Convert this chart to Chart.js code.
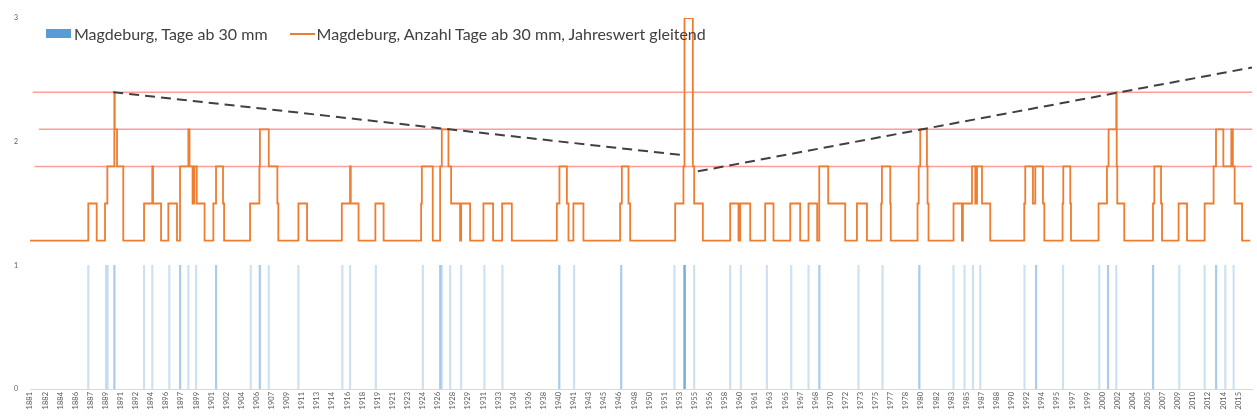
<!DOCTYPE html>
<html>
<head>
<meta charset="utf-8">
<script src="https://cdn.jsdelivr.net/npm/chart.js@4.4.1/dist/chart.umd.min.js"></script>
<style>
  html, body { margin: 0; padding: 0; background: #fff; }
  #wrap { position: relative; width: 1257px; height: 419px; }
  #legend {
    position: absolute; top: 24px; left: 46px;
    font-family: Lato, "Liberation Sans", sans-serif; font-size: 16px; color: #404040;
    display: flex; align-items: center; white-space: nowrap;
  }
  .box { display: inline-block; width: 25px; height: 9px; background: #5b9bd5; margin-right: 3px; }
  .line { display: inline-block; width: 25px; height: 2px; background: #ed7d31; margin: 0 2px 0 22px; }
</style>
</head>
<body>
<div id="wrap">
  <canvas id="chart" width="1257" height="419"></canvas>
  <div id="legend">
    <span class="box"></span><span>Magdeburg, Tage ab 30 mm</span>
    <span class="line"></span><span>Magdeburg, Anzahl Tage ab 30 mm, Jahreswert gleitend</span>
  </div>
</div>
<script>
// days with >= 30 mm (decimal year of each day, doubles where the bar is darker)
const eventYears = [
  1887.51, 1889.49, 1889.68, 1890.42, 1890.43, 1893.74, 1894.66, 1896.56, 1897.76, 1897.78,
  1898.69, 1899.55, 1901.78, 1901.79, 1905.66, 1906.66, 1906.68, 1907.67, 1910.98, 1915.89,
  1916.75, 1919.63, 1924.88, 1926.81, 1926.83, 1927.00, 1927.93, 1929.16, 1931.76, 1933.77,
  1940.11, 1940.13, 1941.78, 1947.03, 1947.05, 1952.99, 1954.10, 1954.11, 1954.12, 1954.13,
  1954.14, 1955.19, 1959.21, 1960.41, 1963.31, 1966.03, 1967.96, 1969.16, 1969.18, 1973.55,
  1976.23, 1980.33, 1980.35, 1984.16, 1985.39, 1986.33, 1987.15, 1992.09, 1993.37, 1993.39,
  1996.39, 2000.44, 2001.41, 2001.43, 2002.34, 2006.44, 2006.46, 2009.38, 2012.21, 2013.48,
  2013.50, 2014.52, 2015.45
];

// moving annual count, as plotted: change points (year) and new level
const stepYears = [
  1881.00, 1887.51, 1888.45, 1889.38, 1889.64, 1890.42, 1890.47, 1890.72, 1891.42, 1893.74,
  1894.66, 1894.74, 1895.64, 1896.45, 1897.42, 1897.76, 1898.69, 1898.82, 1899.16, 1899.36,
  1899.63, 1900.50, 1901.48, 1901.78, 1902.56, 1902.68, 1905.58, 1906.62, 1906.68, 1907.67,
  1908.63, 1908.74, 1910.98, 1911.95, 1915.83, 1916.75, 1916.83, 1917.70, 1919.58, 1920.50,
  1924.69, 1924.77, 1925.99, 1926.81, 1927.00, 1927.74, 1928.04, 1929.04, 1929.16, 1930.16,
  1931.65, 1932.73, 1933.74, 1934.82, 1939.85, 1940.14, 1940.97, 1941.15, 1941.70, 1942.82,
  1946.92, 1947.11, 1947.85, 1948.04, 1953.07, 1953.99, 1954.11, 1955.04, 1955.19, 1956.16,
  1959.21, 1960.14, 1960.33, 1961.45, 1963.12, 1964.05, 1965.92, 1967.03, 1967.96, 1968.93,
  1969.16, 1970.16, 1972.06, 1973.37, 1974.49, 1976.08, 1976.16, 1977.09, 1977.15, 1980.14,
  1980.27, 1980.44, 1981.19, 1981.26, 1981.37, 1984.16, 1985.10, 1985.21, 1986.22, 1986.59,
  1986.78, 1987.34, 1988.26, 1992.06, 1992.17, 1993.03, 1993.29, 1994.15, 1994.30, 1996.34,
  1996.42, 1997.20, 1997.28, 2000.36, 2001.30, 2001.48, 2002.34, 2002.39, 2002.45, 2003.23,
  2006.44, 2006.59, 2007.34, 2007.45, 2009.30, 2010.24, 2012.21, 2013.21, 2013.48, 2014.30,
  2015.19, 2015.36, 2015.56, 2016.39, 2017.31
];
const stepValues = [
  1.2, 1.5, 1.2, 1.5, 1.8, 2.4, 2.1, 1.8, 1.2, 1.5,
  1.8, 1.5, 1.2, 1.5, 1.2, 1.8, 2.1, 1.8, 1.5, 1.8,
  1.5, 1.2, 1.5, 1.8, 1.5, 1.2, 1.5, 1.8, 2.1, 1.8,
  1.5, 1.2, 1.5, 1.2, 1.5, 1.8, 1.5, 1.2, 1.5, 1.2,
  1.5, 1.8, 1.2, 1.8, 2.1, 1.8, 1.5, 1.2, 1.5, 1.2,
  1.5, 1.2, 1.5, 1.2, 1.5, 1.8, 1.5, 1.2, 1.5, 1.2,
  1.5, 1.8, 1.5, 1.2, 1.5, 1.8, 3.0, 1.8, 1.5, 1.2,
  1.5, 1.2, 1.5, 1.2, 1.5, 1.2, 1.5, 1.2, 1.5, 1.2,
  1.8, 1.5, 1.2, 1.5, 1.2, 1.5, 1.8, 1.5, 1.2, 1.5,
  1.8, 2.1, 1.8, 1.5, 1.2, 1.5, 1.2, 1.5, 1.8, 1.5,
  1.8, 1.5, 1.2, 1.5, 1.8, 1.5, 1.8, 1.5, 1.2, 1.5,
  1.8, 1.5, 1.2, 1.5, 1.8, 2.1, 2.4, 1.8, 1.5, 1.2,
  1.5, 1.8, 1.5, 1.2, 1.5, 1.2, 1.5, 1.8, 2.1, 1.8,
  2.1, 1.8, 1.5, 1.2, 1.2
];

// red reference levels and the two dashed trend lines
const refLevels = [1.8, 2.1, 2.4];
const refStarts = [1881.5, 1882.0, 1881.3];
const trendA = { years: [1890.3, 1954.1], values: [2.4, 1.89] };
const trendB = { years: [1955.6, 2017.5], values: [1.76, 2.6] };

// category labels Excel printed under the axis
const yearLabels = [
  "1881","1882","1884","1886","1887","1889","1891","1892","1894","1896",
  "1897","1899","1901","1902","1904","1906","1907","1909","1911","1913",
  "1914","1916","1918","1919","1921","1923","1924","1926","1928","1929",
  "1931","1933","1934","1936","1938","1940","1941","1943","1945","1946",
  "1948","1950","1951","1953","1955","1956","1958","1960","1961","1963",
  "1965","1967","1968","1970","1972","1973","1975","1977","1978","1980",
  "1982","1983","1985","1987","1988","1990","1992","1994","1995","1997",
  "1999","2000","2002","2004","2005","2007","2009","2010","2012","2014",
  "2015"
];

const X_MIN = 1881.0, X_MAX = 2017.5;
const LABEL_STEP = 1.687;

const pts = (xs, ys) => xs.map((x, i) => ({ x: x, y: ys[i] }));

const datasets = [
  {
    type: 'line', data: pts(trendA.years, trendA.values), order: 0,
    borderColor: '#404040', borderWidth: 2, borderDash: [10, 6], pointRadius: 0
  },
  {
    type: 'line', data: pts(trendB.years, trendB.values), order: 0,
    borderColor: '#404040', borderWidth: 2, borderDash: [10, 6], pointRadius: 0
  },
  {
    type: 'line', data: pts(stepYears, stepValues), order: 1, stepped: true,
    borderColor: '#ed7d31', borderWidth: 1.8, pointRadius: 0
  }
];
refLevels.forEach((lv, i) => {
  datasets.push({
    type: 'line', data: [{ x: refStarts[i], y: lv }, { x: X_MAX, y: lv }], order: 2,
    borderColor: 'rgba(255,90,90,0.6)', borderWidth: 1.5, pointRadius: 0
  });
});
datasets.push({
  type: 'bar', data: eventYears.map(y => ({ x: y, y: 1 })), order: 3,
  backgroundColor: 'rgba(91,155,213,0.3)', barThickness: 1.5
});

new Chart(document.getElementById('chart'), {
  type: 'bar',
  data: { datasets: datasets },
  options: {
    responsive: false,
    animation: false,
    layout: { padding: { left: 0, right: 5, top: 18, bottom: 0 } },
    plugins: { legend: { display: false }, tooltip: { enabled: false } },
    scales: {
      x: {
        type: 'linear', min: X_MIN, max: X_MAX, offset: false,
        grid: { display: false, drawTicks: false },
        border: { display: true, color: '#d9d9d9' },
        afterBuildTicks: s => { s.ticks = yearLabels.map((_, i) => ({ value: X_MIN + i * LABEL_STEP })); },
        ticks: {
          autoSkip: false, maxRotation: 90, minRotation: 90, padding: 3,
          color: '#595959', font: { family: 'Lato', size: 7.5 },
          callback: (v, i) => yearLabels[i]
        },
        afterFit: s => { s.height = 30; }
      },
      y: {
        min: 0, max: 3,
        grid: { display: false, drawTicks: false },
        border: { display: false },
        ticks: { stepSize: 1, padding: 12, color: '#595959', font: { family: 'Lato', size: 7 } },
        afterFit: s => { s.width = 30; }
      }
    }
  }
});
</script>
</body>
</html>
